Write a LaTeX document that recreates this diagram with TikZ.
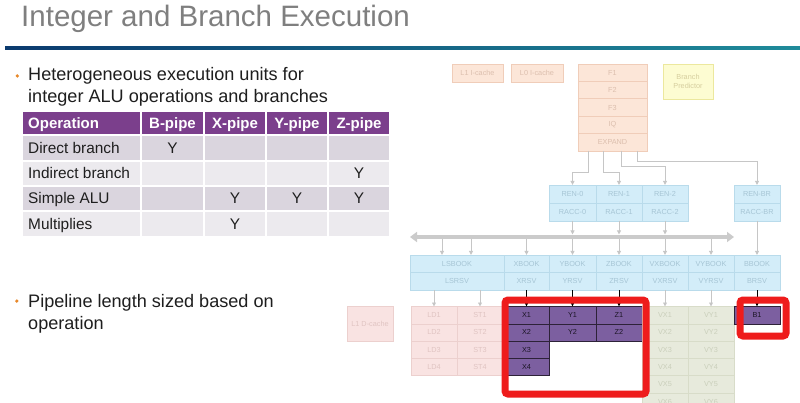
\documentclass[tikz,border=0pt]{standalone}
\usepackage{fontspec}
\setmainfont{Liberation Sans}
\usetikzlibrary{arrows.meta,calc}
\definecolor{titlegray}{HTML}{7F7F7F}
\definecolor{barL}{HTML}{0B3A6E}
\definecolor{barR}{HTML}{1F8B9A}
\definecolor{bulletor}{HTML}{E8892B}
\definecolor{bodytxt}{HTML}{1E1E1E}
\definecolor{hdr}{HTML}{7B3F8C}
\definecolor{rowA}{HTML}{DAD5DE}
\definecolor{rowB}{HTML}{ECEAEE}
\definecolor{peachF}{HTML}{FCE6D8}
\definecolor{peachD}{HTML}{F0CDB9}
\definecolor{peachT}{HTML}{DCBFAE}
\definecolor{yelF}{HTML}{FDFCD2}
\definecolor{yelD}{HTML}{ECE89E}
\definecolor{yelT}{HTML}{D6CE9E}
\definecolor{blueF}{HTML}{D3EDF9}
\definecolor{blueD}{HTML}{B9DBEB}
\definecolor{blueT}{HTML}{A6C5D5}
\definecolor{pinkF}{HTML}{F9E3E2}
\definecolor{pinkD}{HTML}{ECD0CE}
\definecolor{pinkT}{HTML}{E0C4C2}
\definecolor{grnF}{HTML}{E7EADC}
\definecolor{grnD}{HTML}{D8DCC9}
\definecolor{grnT}{HTML}{CACFBB}
\definecolor{purF}{HTML}{7C5FA0}
\definecolor{purD}{HTML}{2D2238}
\definecolor{purT}{HTML}{1C1626}
\definecolor{arrG}{HTML}{C6C6C6}
\definecolor{busG}{HTML}{CBCBCB}
\definecolor{hilite}{HTML}{EE1C1C}
\newcommand\mkbox[7]{\node[#1, anchor=north west, inner sep=0pt, outer sep=0pt, minimum width={(#5-#3)*1pt}, minimum height={(#6-#4)*1pt}] (#2) at (#3,#4) {#7};}
\tikzset{
  small/.style={font=\fontsize{7.3}{8.5}\selectfont},
  peach/.style={small, fill=peachF, draw=peachD, line width=0.6pt, text=peachT},
  yel/.style={small, fill=yelF, draw=yelD, line width=0.6pt, text=yelT, align=center},
  bluec/.style={small, fill=blueF, draw=blueD, line width=0.6pt, text=blueT},
  pinkc/.style={small, fill=pinkF, draw=pinkD, line width=0.6pt, text=pinkT},
  grnc/.style={small, fill=grnF, draw=grnD, line width=0.6pt, text=grnT},
  purc/.style={small, fill=purF, draw=purD, line width=0.6pt, text=purT},
  hcell/.style={fill=hdr, draw=white, line width=1.5pt},
  acell/.style={fill=rowA, draw=white, line width=1.5pt},
  bcell/.style={fill=rowB, draw=white, line width=1.5pt},
  tfont/.style={font=\fontsize{15.4}{18}\selectfont, text=bodytxt, inner sep=0pt},
  hfont/.style={font=\fontsize{15}{18}\selectfont\bfseries, text=white, inner sep=0pt},
  garr/.style={draw=arrG, line width=0.8pt, -{Triangle[width=3.8pt,length=4pt]}},
  gline/.style={draw=arrG, line width=0.8pt},
  karr/.style={draw=black, line width=0.8pt, -{Triangle[width=3.4pt,length=4pt]}},
  busline/.style={draw=busG, line width=3.6pt, {Triangle[width=10pt,length=7pt]}-{Triangle[width=10pt,length=7pt]}},
  redbox/.style={draw=hilite, line width=7pt, rounded corners=3pt},
  bullettxt/.style={font=\fontsize{18.1}{21}\selectfont, text=bodytxt, inner sep=0pt, anchor=base west},
}
\begin{document}
\begin{tikzpicture}[x=1pt,y=-1pt]
\useasboundingbox[fill=white] (0,0) rectangle (800,403);
% title
\node[font=\fontsize{29.5}{34}\selectfont, text=titlegray, anchor=base west, inner sep=0pt] (title) at (21,27) {Integer and Branch Execution};
\shade[left color=barL, right color=barR] (5,46.5) rectangle (800,49.5);
% bullets
\fill[bulletor] (17.3,76) circle (1.8);
\node[bullettxt] (b1a) at (28,81) {Heterogeneous execution units for};
\node[bullettxt] (b1b) at (28,103) {integer ALU operations and branches};
\fill[bulletor] (16.8,301) circle (1.8);
\node[bullettxt] (b2a) at (28,307) {Pipeline length sized based on};
\node[bullettxt] (b2b) at (28,329.5) {operation};
% table
\mkbox{hcell}{h0}{22}{111}{141}{135}{}
\mkbox{hcell}{h1}{141}{111}{204}{135}{}
\mkbox{hcell}{h2}{204}{111}{266}{135}{}
\mkbox{hcell}{h3}{266}{111}{328}{135}{}
\mkbox{hcell}{h4}{328}{111}{390}{135}{}
\mkbox{acell}{r10}{22}{135}{141}{161}{}
\mkbox{acell}{r11}{141}{135}{204}{161}{}
\mkbox{acell}{r12}{204}{135}{266}{161}{}
\mkbox{acell}{r13}{266}{135}{328}{161}{}
\mkbox{acell}{r14}{328}{135}{390}{161}{}
\mkbox{bcell}{r20}{22}{161}{141}{186}{}
\mkbox{bcell}{r21}{141}{161}{204}{186}{}
\mkbox{bcell}{r22}{204}{161}{266}{186}{}
\mkbox{bcell}{r23}{266}{161}{328}{186}{}
\mkbox{bcell}{r24}{328}{161}{390}{186}{}
\mkbox{acell}{r30}{22}{186}{141}{211}{}
\mkbox{acell}{r31}{141}{186}{204}{211}{}
\mkbox{acell}{r32}{204}{186}{266}{211}{}
\mkbox{acell}{r33}{266}{186}{328}{211}{}
\mkbox{acell}{r34}{328}{186}{390}{211}{}
\mkbox{bcell}{r40}{22}{211}{141}{237}{}
\mkbox{bcell}{r41}{141}{211}{204}{237}{}
\mkbox{bcell}{r42}{204}{211}{266}{237}{}
\mkbox{bcell}{r43}{266}{211}{328}{237}{}
\mkbox{bcell}{r44}{328}{211}{390}{237}{}
\node[hfont, anchor=base west] (th0) at ($(h0.west)+(6,5.5)$) {Operation};
\node[hfont, anchor=base] (th1) at ($(h1.center)+(0,5.5)$) {B-pipe};
\node[hfont, anchor=base] (th2) at ($(h2.center)+(0,5.5)$) {X-pipe};
\node[hfont, anchor=base] (th3) at ($(h3.center)+(0,5.5)$) {Y-pipe};
\node[hfont, anchor=base] (th4) at ($(h4.center)+(0,5.5)$) {Z-pipe};
\node[tfont, anchor=base west] (t10) at ($(r10.west)+(6,5.5)$) {Direct branch};
\node[tfont, anchor=base] (t11) at ($(r11.center)+(0,5.5)$) {Y};
\node[tfont, anchor=base west] (t20) at ($(r20.west)+(6,5.5)$) {Indirect branch};
\node[tfont, anchor=base] (t24) at ($(r24.center)+(0,5.5)$) {Y};
\node[tfont, anchor=base west] (t30) at ($(r30.west)+(6,5.5)$) {Simple ALU};
\node[tfont, anchor=base] (t32) at ($(r32.center)+(0,5.5)$) {Y};
\node[tfont, anchor=base] (t33) at ($(r33.center)+(0,5.5)$) {Y};
\node[tfont, anchor=base] (t34) at ($(r34.center)+(0,5.5)$) {Y};
\node[tfont, anchor=base west] (t40) at ($(r40.west)+(6,5.5)$) {Multiplies};
\node[tfont, anchor=base] (t42) at ($(r42.center)+(0,5.5)$) {Y};
% front end
\mkbox{peach}{l1i}{452}{64}{503}{82}{L1 I-cache}
\mkbox{peach}{l0i}{511}{64}{563}{82}{L0 I-cache}
\mkbox{peach}{f1}{578}{64}{647}{81.4}{F1}
\mkbox{peach}{f2}{578}{81.4}{647}{98.8}{F2}
\mkbox{peach}{f3}{578}{98.8}{647}{116.2}{F3}
\mkbox{peach}{iq}{578}{116.2}{647}{133.6}{IQ}
\mkbox{peach}{expand}{578}{133.6}{647}{151}{EXPAND}
\mkbox{yel}{bp}{663}{64}{713}{99}{Branch\\Predictor}
% rename
\mkbox{bluec}{ren0}{549}{185}{596}{203}{REN-0}
\mkbox{bluec}{ren1}{596}{185}{642}{203}{REN-1}
\mkbox{bluec}{ren2}{642}{185}{688}{203}{REN-2}
\mkbox{bluec}{racc0}{549}{203}{596}{221}{RACC-0}
\mkbox{bluec}{racc1}{596}{203}{642}{221}{RACC-1}
\mkbox{bluec}{racc2}{642}{203}{688}{221}{RACC-2}
\mkbox{bluec}{renbr}{734}{185}{780}{203}{REN-BR}
\mkbox{bluec}{raccbr}{734}{203}{780}{221}{RACC-BR}
% book / rsv
\mkbox{bluec}{lsbook}{410}{255}{504}{272.5}{LSBOOK}
\mkbox{bluec}{xbook}{504}{255}{549}{272.5}{XBOOK}
\mkbox{bluec}{ybook}{549}{255}{596}{272.5}{YBOOK}
\mkbox{bluec}{zbook}{596}{255}{642}{272.5}{ZBOOK}
\mkbox{bluec}{vxbook}{642}{255}{688}{272.5}{VXBOOK}
\mkbox{bluec}{vybook}{688}{255}{734}{272.5}{VYBOOK}
\mkbox{bluec}{bbook}{734}{255}{780}{272.5}{BBOOK}
\mkbox{bluec}{lsrsv}{410}{272.5}{504}{290}{LSRSV}
\mkbox{bluec}{xrsv}{504}{272.5}{549}{290}{XRSV}
\mkbox{bluec}{yrsv}{549}{272.5}{596}{290}{YRSV}
\mkbox{bluec}{zrsv}{596}{272.5}{642}{290}{ZRSV}
\mkbox{bluec}{vxrsv}{642}{272.5}{688}{290}{VXRSV}
\mkbox{bluec}{vyrsv}{688}{272.5}{734}{290}{VYRSV}
\mkbox{bluec}{brsv}{734}{272.5}{780}{290}{BRSV}
% execution
\mkbox{pinkc}{l1d}{347}{306.5}{393}{341}{L1 D-cache}
\mkbox{pinkc}{ld1}{411}{306.5}{457}{323.8}{LD1}
\mkbox{pinkc}{ld2}{411}{323.8}{457}{341.1}{LD2}
\mkbox{pinkc}{ld3}{411}{341.1}{457}{358.4}{LD3}
\mkbox{pinkc}{ld4}{411}{358.4}{457}{375.7}{LD4}
\mkbox{pinkc}{st1}{457}{306.5}{503}{323.8}{ST1}
\mkbox{pinkc}{st2}{457}{323.8}{503}{341.1}{ST2}
\mkbox{pinkc}{st3}{457}{341.1}{503}{358.4}{ST3}
\mkbox{pinkc}{st4}{457}{358.4}{503}{375.7}{ST4}
\mkbox{purc}{x1}{504}{306.5}{549}{323.8}{X1}
\mkbox{purc}{x2}{504}{323.8}{549}{341.1}{X2}
\mkbox{purc}{x3}{504}{341.1}{549}{358.4}{X3}
\mkbox{purc}{x4}{504}{358.4}{549}{375.7}{X4}
\mkbox{purc}{y1}{549}{306.5}{596}{323.8}{Y1}
\mkbox{purc}{y2}{549}{323.8}{596}{341.1}{Y2}
\mkbox{purc}{z1}{596}{306.5}{642}{323.8}{Z1}
\mkbox{purc}{z2}{596}{323.8}{642}{341.1}{Z2}
\mkbox{grnc}{vx1}{642}{306.5}{688}{323.8}{VX1}
\mkbox{grnc}{vx2}{642}{323.8}{688}{341.1}{VX2}
\mkbox{grnc}{vx3}{642}{341.1}{688}{358.4}{VX3}
\mkbox{grnc}{vx4}{642}{358.4}{688}{375.7}{VX4}
\mkbox{grnc}{vx5}{642}{375.7}{688}{393}{VX5}
\mkbox{grnc}{vx6}{642}{393}{688}{410.3}{VX6}
\mkbox{grnc}{vy1}{688}{306.5}{734}{323.8}{VY1}
\mkbox{grnc}{vy2}{688}{323.8}{734}{341.1}{VY2}
\mkbox{grnc}{vy3}{688}{341.1}{734}{358.4}{VY3}
\mkbox{grnc}{vy4}{688}{358.4}{734}{375.7}{VY4}
\mkbox{grnc}{vy5}{688}{375.7}{734}{393}{VY5}
\mkbox{grnc}{vy6}{688}{393}{734}{410.3}{VY6}
\mkbox{purc}{b1}{734}{306.5}{780}{323.8}{B1}
% connectors from EXPAND
\coordinate (e1) at ([xshift=10pt]expand.south west);
\coordinate (e2) at ([xshift=25pt]expand.south west);
\coordinate (e3) at ([xshift=43pt]expand.south west);
\coordinate (e4) at ([xshift=59pt]expand.south west);
\draw[garr] (e1) -- ++(0,21) -| (ren0.north);
\draw[garr] (e2) -- ++(0,21) -| (ren1.north);
\draw[garr] (e3) -- ++(0,15.7) -| (ren2.north);
\draw[garr] (e4) -- ++(0,10.7) -| (renbr.north);
% bus
\coordinate (busL) at (410,237);
\coordinate (busR) at (734,237);
\coordinate (busT) at (0,234.5);
\coordinate (busB) at (0,239.5);
\draw[busline] (busL) -- (busR);
\draw[garr] (racc0.south) -- (racc0.south |- busT);
\draw[garr] (racc1.south) -- (racc1.south |- busT);
\draw[garr] (racc2.south) -- (racc2.south |- busT);
\coordinate (ls1) at ([xshift=32pt]lsbook.north west);
\coordinate (ls2) at ([xshift=61pt]lsbook.north west);
\draw[garr] (ls1 |- busB) -- (ls1);
\draw[garr] (ls2 |- busB) -- (ls2);
\draw[garr] (xbook.north |- busB) -- (xbook.north);
\draw[garr] (ybook.north |- busB) -- (ybook.north);
\draw[garr] (zbook.north |- busB) -- (zbook.north);
\draw[garr] (vxbook.north |- busB) -- (vxbook.north);
\draw[garr] (vybook.north |- busB) -- (vybook.north);
\draw[garr] (raccbr.south) -- (bbook.north);
% rsv to execution
\draw[garr] (lsrsv.south -| ld1.north) -- (ld1.north);
\draw[garr] (lsrsv.south -| st1.north) -- (st1.north);
\draw[karr] (xrsv.south -| x1.north) -- (x1.north);
\draw[karr] (yrsv.south) -- (y1.north);
\draw[karr] (zrsv.south) -- (z1.north);
\draw[garr] (vxrsv.south) -- (vx1.north);
\draw[garr] (vyrsv.south) -- (vy1.north);
\draw[karr] (brsv.south) -- (b1.north);
% highlight boxes
\node[redbox, anchor=north west, minimum width=141pt, minimum height=94pt, inner sep=0pt] (hl1) at (501.5,296.5) {};
\node[redbox, anchor=north west, minimum width=46pt, minimum height=36pt, inner sep=0pt] (hl2) at (736.5,296.5) {};
\end{tikzpicture}
\end{document}
